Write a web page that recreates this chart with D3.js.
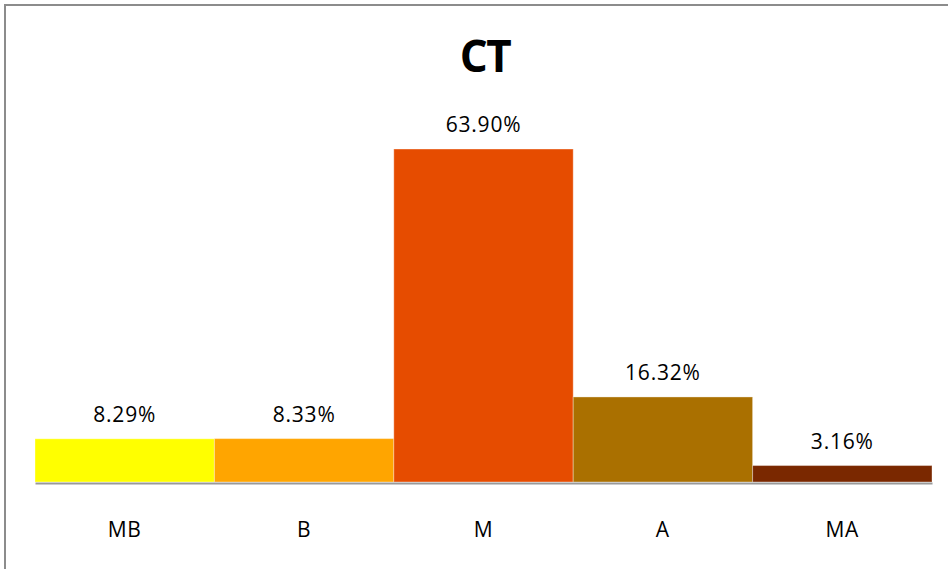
<!DOCTYPE html>
<html>
<head>
<meta charset="utf-8">
<script src="https://cdn.jsdelivr.net/npm/d3@7"></script>
<style>
html,body{margin:0;padding:0;background:#fff;}
svg{display:block;}
</style>
</head>
<body>
<svg id="chart" width="948" height="569"></svg>
<script>
const title = "CT";
const categories = ["MB", "B", "M", "A", "MA"];
const values = [8.29, 8.33, 63.90, 16.32, 3.16];
const valueLabels = ["8.29%", "8.33%", "63.90%", "16.32%", "3.16%"];
const colors = ["#FFFF00", "#FFA500", "#E64C00", "#AA7000", "#7A2800"];

const svg = d3.select("#chart");

// outer frame (extends beyond the visible area on right and bottom)
svg.append("rect")
  .attr("x", 5).attr("y", 5)
  .attr("width", 1000).attr("height", 1000)
  .attr("fill", "#fff")
  .attr("stroke", "#8c8c8c")
  .attr("stroke-width", 2);

const x = d3.scaleBand().domain(categories).range([35, 932]).padding(0);
const y = d3.scaleLinear().domain([0, 70]).range([482, 482 - 70 * 5.211]);

svg.append("text")
  .attr("x", 485).attr("y", 72)
  .attr("text-anchor", "middle")
  .attr("font-family", "'Open Sans', sans-serif")
  .attr("font-weight", "bold")
  .attr("font-size", 44)
  .attr("letter-spacing", -1.5)
  .attr("fill", "#000")
  .text(title);

const data = categories.map((c, i) => ({c, v: values[i], l: valueLabels[i], col: colors[i]}));

svg.selectAll("rect.bar").data(data).enter().append("rect")
  .attr("class", "bar")
  .attr("x", d => x(d.c))
  .attr("y", d => y(d.v))
  .attr("width", x.bandwidth())
  .attr("height", d => y(0) - y(d.v))
  .attr("fill", d => d.col)
  .attr("stroke", "rgba(255,255,255,0.35)")
  .attr("stroke-width", 1);

// axis
const axis = d3.axisBottom(x).tickSize(0).tickPadding(0);
const gAxis = svg.append("g").attr("transform", "translate(0,483)").call(axis);
gAxis.select(".domain").attr("stroke", "#999").attr("stroke-width", 2);
gAxis.selectAll("text")
  .attr("dy", 0)
  .attr("y", 54)
  .attr("font-family", "'Open Sans', sans-serif")
  .attr("font-size", 21)
  .attr("letter-spacing", 0.8)
  .attr("fill", "#000");

svg.selectAll("text.val").data(data).enter().append("text")
  .attr("class", "val")
  .attr("x", d => x(d.c) + x.bandwidth() / 2)
  .attr("y", d => y(d.v) - 17)
  .attr("text-anchor", "middle")
  .attr("font-family", "'Open Sans', sans-serif")
  .attr("font-size", 21)
  .attr("letter-spacing", 0.8)
  .attr("fill", "#000")
  .text(d => d.l);
</script>
</body>
</html>
